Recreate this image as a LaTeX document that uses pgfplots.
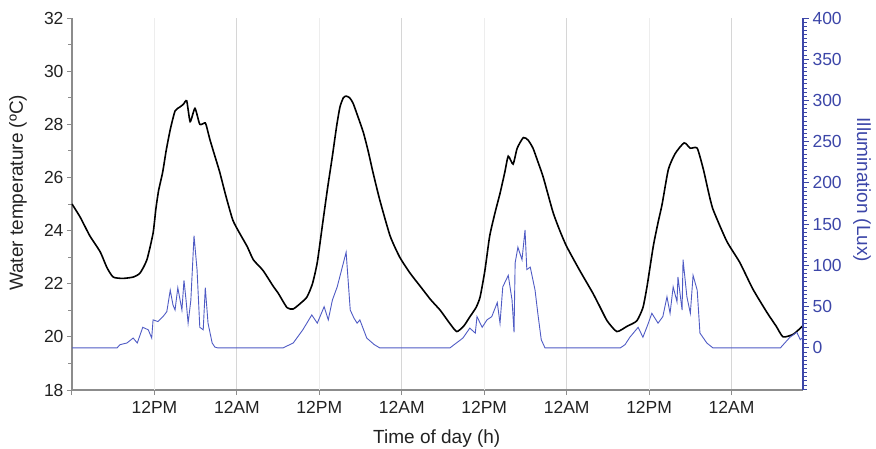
\documentclass[border=0pt]{standalone}
\usepackage{fontspec}
\setmainfont{Liberation Sans}
\usepackage{pgfplots}
\pgfplotsset{compat=1.18}
\definecolor{luxblue}{HTML}{4F5BC4}
\definecolor{axblue}{HTML}{3C46A8}
\definecolor{axgray}{HTML}{8C8C8C}
\definecolor{txt}{HTML}{222222}

\pgfplotstableread{
h T
0 25.0
1.2 24.5
2.6 23.8
4.1 23.2
5.1 22.6
6.0 22.25
7.4 22.2
8.9 22.25
9.9 22.4
10.9 22.9
11.8 23.9
12.2 24.8
12.6 25.5
13.2 26.2
13.7 27.0
14.3 27.8
15.0 28.5
15.7 28.65
16.2 28.75
16.7 28.88
17.2 28.1
17.9 28.6
18.6 28.0
19.4 28.05
19.8 27.7
20.1 27.4
20.8 26.8
21.5 26.2
22.4 25.3
23.4 24.4
24.4 23.9
25.5 23.4
26.4 22.9
27.8 22.5
29.3 21.9
30.0 21.65
31.3 21.1
32.2 21.05
33.2 21.25
34.2 21.5
35.0 22.0
35.7 22.8
36.5 24.3
37.2 25.6
37.9 26.8
38.5 27.9
39.0 28.65
39.5 29.0
39.9 29.06
40.4 29.0
40.9 28.8
41.6 28.3
42.4 27.7
43.1 27.0
43.8 26.2
44.8 25.15
46.3 23.8
47.7 23.0
49.2 22.4
50.7 21.9
52.2 21.4
53.6 21.0
55.0 20.5
56.0 20.2
57.0 20.4
57.9 20.75
58.8 21.1
59.4 21.5
60.1 22.5
60.8 23.8
61.6 24.7
62.3 25.4
63.0 26.2
63.5 26.8
64.2 26.5
64.8 27.1
65.7 27.5
66.4 27.4
67.1 27.1
67.8 26.6
68.6 26.0
70.0 24.7
71.0 24.0
72.0 23.4
73.9 22.5
75.8 21.65
76.9 21.1
77.9 20.6
79.3 20.2
80.8 20.4
82.2 20.6
83.1 21.1
83.7 21.9
84.6 23.4
85.3 24.3
85.9 25.0
86.8 26.3
87.8 26.9
89.1 27.3
90.0 27.1
91.0 27.1
91.9 26.3
92.6 25.5
93.3 24.8
95.3 23.6
97.2 22.8
99.1 21.8
101.2 20.9
102.5 20.4
103.5 20.0
105.0 20.1
106.3 20.4
}\temptable

\pgfplotstableread{
h L
0 0
6.55 0
7.0 4
8.0 6
8.9 12
9.5 6
10.3 25
11.1 22
11.6 12
11.8 34
12.5 32
13.25 38
13.8 44
14.3 70
14.7 52
15.0 46
15.4 73
16.0 46
16.3 82
16.6 58
16.9 30
17.3 58
17.76 136
18.2 95
18.6 25
19.1 22
19.4 73
19.8 30
20.4 6
20.8 1
21.25 0
30.7 0
32.2 6
33.6 22
34.9 40
35.7 30
36.7 50
37.3 34
37.9 58
38.6 74
39.9 116
40.5 46
41.05 36
41.5 30
41.9 34
42.9 12
44.0 4
44.8 0
55.0 0
56.9 12
57.9 24
58.7 18
58.95 38
59.7 25
60.4 34
61.1 38
61.9 55
62.3 30
62.7 74
63.5 88
64.05 58
64.34 19
64.5 103
64.9 122
65.5 107
65.94 143
66.2 95
66.7 98
67.4 70
67.8 42
68.3 10
68.85 0
79.8 0
80.5 4
81.2 13
82.4 25
83.1 13
83.8 28
84.4 42
85.3 30
86.0 38
86.6 62
87.05 42
87.5 74
88.06 56
88.2 86
88.8 46
88.94 107
89.5 62
90.0 42
90.4 88
91.0 70
91.4 18
92.4 6
93.3 0
103.1 0
104.5 13
105.5 19
106.0 10
106.4 13
}\luxtable

\begin{document}
\begin{tikzpicture}[x=1pt,y=1pt]
\useasboundingbox (0,0) rectangle (876,448);
\begin{axis}[
  at={(72pt,58pt)}, anchor=south west,
  scale only axis, width=731pt, height=372pt,
  xmin=0, xmax=106.4, ymin=18, ymax=32,
  axis x line*=bottom, axis y line*=left,
  axis line style={axgray, line width=1.5pt},
  xtick={0,24,48,72,96},
  xticklabels={,12AM,12AM,12AM,12AM},
  extra x ticks={12,36,60,84},
  extra x tick labels={12PM,12PM,12PM,12PM},
  extra x tick style={grid style={gray!14, line width=1pt}},
  xmajorgrids, grid style={gray!32, line width=1pt},
  ytick={18,20,...,32}, minor y tick num=1,
  tick align=outside,
  major tick length=5pt, minor tick length=4pt,
  tick style={axgray, line width=1pt},
  /pgf/number format/assume math mode=true,
  tick label style={font=\fontsize{17.5}{20}\selectfont, text=txt},
  xticklabel style={yshift=-3pt},
  xlabel={Time of day (h)},
  ylabel={Water temperature (ºC)},
  label style={font=\fontsize{19}{22}\selectfont, text=txt},
  xlabel style={at={(axis description cs:0.499,-0.131)}, anchor=center},
  ylabel style={at={(axis description cs:-0.074,0.53)}, anchor=center},
  clip=false,
]
\addplot[black, line width=1.6pt, smooth, tension=0.35] table[x=h, y=T] {\temptable};
\end{axis}
\begin{axis}[
  at={(72pt,58pt)}, anchor=south west,
  scale only axis, width=731pt, height=372pt,
  xmin=0, xmax=106.4, ymin=-51, ymax=400,
  axis x line=none, axis y line*=right,
  axis line style={axblue, line width=1.5pt},
  ytick={0,50,...,400},
  minor ytick={-50,-45,...,400},
  tick align=outside,
  major tick length=6pt, minor tick length=3.5pt,
  tick style={axblue, line width=1pt},
  /pgf/number format/assume math mode=true,
  tick label style={font=\fontsize{17.5}{20}\selectfont, text=axblue},
  ylabel={Illumination (Lux)},
  label style={font=\fontsize{19}{22}\selectfont, text=axblue},
  ylabel style={at={(axis description cs:1.0807,0.538)}, anchor=center, rotate=180},
]
\addplot[luxblue, line width=0.9pt] table[x=h, y=L] {\luxtable};
\end{axis}
\end{tikzpicture}
\end{document}
